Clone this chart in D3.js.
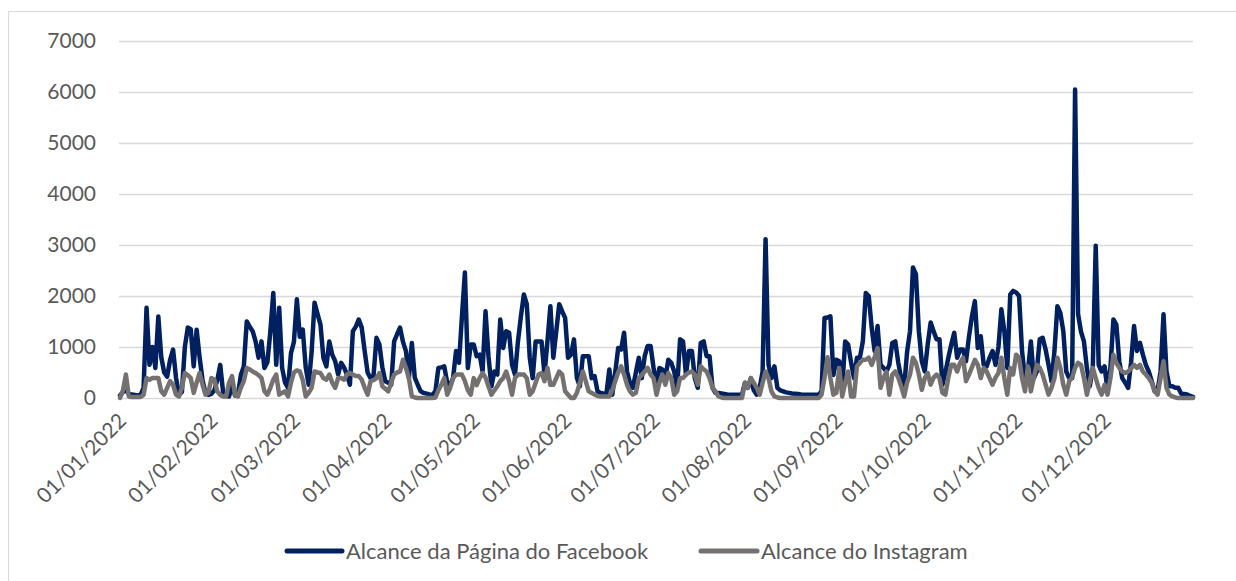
<!DOCTYPE html>
<html>
<head>
<meta charset="utf-8">
<script src="https://cdn.jsdelivr.net/npm/d3@7"></script>
<style>
  html, body { margin: 0; padding: 0; background: #fff; }
  svg { display: block; font-family: Lato, "Open Sans", sans-serif; }
</style>
</head>
<body>
<div id="chart"></div>
<script>
// daily values, 01/01/2022 .. 31/12/2022
const facebookReach = [
  50, 120, 150, 80, 70, 60, 50, 60, 200, 1770,
  650, 1000, 590, 1600, 800, 500, 420, 750, 950, 400,
  60, 120, 1000, 1380, 1350, 620, 1340, 800, 350, 100,
  60, 80, 150, 350, 650, 100, 40, 30, 250, 50,
  60, 450, 620, 1500, 1400, 1310, 1110, 790, 1110, 590,
  700, 1300, 2060, 650, 1770, 590, 300, 200, 880, 1100,
  1935, 1200, 1340, 600, 260, 900, 1870, 1650, 1440, 790,
  620, 1110, 850, 720, 460, 690, 600, 460, 260, 1310,
  1400, 1540, 1380, 920, 500, 390, 430, 1180, 1050, 600,
  330, 300, 260, 1110, 1250, 1380, 1100, 920, 390, 1080,
  400, 260, 130, 100, 85, 70, 65, 130, 590, 600,
  620, 300, 260, 390, 920, 690, 1600, 2460, 590, 1050,
  1050, 820, 850, 520, 1700, 820, 230, 520, 460, 1540,
  980, 1310, 1280, 650, 460, 1110, 1600, 2030, 1840, 790,
  390, 1110, 1110, 1110, 460, 1110, 1800, 790, 1310, 1840,
  1700, 1570, 790, 850, 1150, 390, 230, 820, 820, 820,
  390, 430, 130, 100, 90, 85, 560, 65, 500, 980,
  950, 1280, 520, 300, 200, 500, 790, 390, 820, 1020,
  1020, 590, 260, 590, 560, 390, 750, 690, 520, 200,
  1150, 1110, 460, 920, 920, 390, 200, 1080, 1110, 820,
  820, 200, 100, 100, 90, 80, 70, 65, 65, 65,
  65, 65, 300, 200, 390, 150, 65, 200, 520, 3115,
  650, 390, 620, 200, 150, 130, 110, 100, 90, 85,
  80, 70, 65, 65, 65, 65, 65, 65, 130, 1570,
  1580, 1600, 450, 750, 720, 200, 1110, 1050, 700, 390,
  790, 790, 1110, 2060, 2000, 1380, 920, 1410, 650, 590,
  520, 650, 1080, 1110, 700, 390, 200, 900, 1310, 2560,
  2430, 1310, 720, 520, 1050, 1480, 1310, 1150, 1150, 260,
  500, 790, 1050, 1280, 790, 950, 950, 720, 1200, 1600,
  1900, 980, 1210, 650, 620, 790, 920, 650, 1000, 1740,
  1310, 590, 2030, 2100, 2070, 2000, 920, 390, 520, 1110,
  390, 520, 1150, 1180, 950, 650, 330, 920, 1800, 1670,
  1310, 520, 390, 390, 6050, 1650, 1300, 1110, 590, 230,
  600, 2985, 650, 520, 620, 160, 600, 1540, 1440, 720,
  390, 300, 200, 700, 1410, 920, 1080, 850, 650, 520,
  330, 130, 150, 520, 1640, 520, 230, 230, 200, 200,
  85, 80, 70, 40, 20
];

const instagramReach = [
  0, 150, 460, 30, 20, 20, 20, 20, 60, 390,
  360, 390, 390, 390, 130, 65, 200, 330, 260, 65,
  30, 200, 490, 450, 390, 100, 300, 490, 260, 65,
  100, 390, 360, 130, 60, 30, 30, 300, 430, 65,
  30, 200, 330, 590, 560, 520, 490, 450, 390, 130,
  65, 200, 360, 460, 65, 100, 130, 30, 300, 500,
  540, 520, 350, 30, 100, 200, 520, 500, 490, 390,
  360, 460, 300, 200, 390, 390, 360, 460, 490, 460,
  430, 430, 360, 200, 65, 330, 350, 390, 490, 230,
  180, 130, 300, 460, 500, 520, 750, 590, 390, 30,
  10, 0, 0, 0, 0, 0, 0, 10, 150, 260,
  390, 65, 200, 390, 460, 460, 460, 330, 150, 65,
  390, 250, 390, 490, 400, 230, 65, 150, 230, 330,
  390, 520, 330, 65, 390, 460, 460, 460, 390, 65,
  130, 300, 460, 490, 330, 590, 260, 260, 390, 520,
  460, 130, 65, 0, 0, 100, 300, 520, 330, 130,
  100, 65, 40, 30, 30, 30, 30, 150, 330, 500,
  620, 460, 260, 130, 65, 100, 390, 450, 520, 590,
  460, 390, 65, 300, 460, 260, 490, 390, 65, 130,
  390, 390, 460, 500, 520, 460, 260, 620, 560, 520,
  390, 200, 130, 30, 10, 0, 0, 0, 0, 0,
  0, 0, 300, 200, 390, 300, 200, 65, 300, 520,
  390, 130, 30, 10, 0, 0, 0, 0, 0, 0,
  0, 0, 0, 0, 0, 0, 0, 0, 65, 400,
  800, 390, 65, 100, 590, 30, 300, 520, 30, 30,
  620, 690, 750, 750, 790, 650, 800, 980, 200, 390,
  520, 65, 460, 520, 400, 230, 30, 300, 460, 790,
  690, 460, 160, 390, 490, 260, 400, 460, 390, 100,
  65, 400, 650, 650, 520, 690, 790, 330, 460, 600,
  750, 650, 390, 590, 520, 390, 260, 400, 490, 790,
  390, 65, 590, 460, 850, 790, 390, 130, 620, 130,
  400, 650, 590, 460, 260, 65, 200, 390, 790, 590,
  260, 65, 330, 400, 590, 690, 650, 390, 65, 330,
  590, 390, 200, 65, 260, 65, 390, 850, 690, 590,
  520, 490, 520, 580, 650, 590, 650, 520, 460, 390,
  300, 130, 65, 390, 720, 200, 65, 30, 10, 0,
  0, 0, 0, 0, 0
];

const yTicks = [0, 1000, 2000, 3000, 4000, 5000, 6000, 7000];
const seriesNames = ["Alcance da Página do Facebook", "Alcance do Instagram"];
const seriesColors = ["#002060", "#767171"];

const width = 1236;
const height = 581;
const margin = { top: 41, right: 43, bottom: 183, left: 120 };

const startDate = new Date(2022, 0, 1);
const dates = facebookReach.map((_, i) => d3.timeDay.offset(startDate, i));
const monthTicks = d3.timeMonth.range(startDate, new Date(2022, 11, 2));

const svg = d3.select("#chart")
  .append("svg")
  .attr("width", width)
  .attr("height", height);

// outer chart frame (right and bottom edges fall outside the picture)
svg.append("rect")
  .attr("x", 8.5)
  .attr("y", 11.5)
  .attr("width", 1260)
  .attr("height", 600)
  .attr("fill", "none")
  .attr("stroke", "#d9d9d9")
  .attr("stroke-width", 1);

const x = d3.scaleTime()
  .domain([dates[0], dates[dates.length - 1]])
  .range([margin.left, width - margin.right]);

const y = d3.scaleLinear()
  .domain([0, 7000])
  .range([height - margin.bottom, margin.top]);

svg.append("g")
  .attr("transform", `translate(${margin.left - 1},0)`)
  .call(d3.axisLeft(y).tickValues(yTicks).tickFormat(d3.format("d"))
    .tickSize(-(width - margin.right - margin.left + 1)).tickPadding(23))
  .call((g) => g.select(".domain").remove())
  .call((g) => g.selectAll("line").attr("stroke", "#d9d9d9").attr("stroke-width", 1.5))
  .call((g) => g.selectAll("text")
    .attr("fill", "#595959")
    .attr("font-size", "21px")
    .attr("font-family", "Lato, 'Open Sans', sans-serif"));

svg.append("g")
  .attr("transform", `translate(0,${height - margin.bottom})`)
  .call(d3.axisBottom(x).tickValues(monthTicks).tickSize(0).tickFormat(d3.timeFormat("%d/%m/%Y")))
  .call((g) => g.select(".domain").remove())
  .call((g) => g.selectAll("text")
    .attr("fill", "#595959")
    .attr("font-size", "21px")
    .attr("font-family", "Lato, 'Open Sans', sans-serif")
    .attr("text-anchor", "end")
    .attr("x", 0)
    .attr("y", 0)
    .attr("dy", "0.35em")
    .attr("transform", "translate(2,19) rotate(-45)"));

const line = d3.line()
  .x((d, i) => x(dates[i]))
  .y((d) => y(d));

svg.append("path")
  .datum(facebookReach)
  .attr("fill", "none")
  .attr("stroke", seriesColors[0])
  .attr("stroke-width", 4.5)
  .attr("stroke-linejoin", "round")
  .attr("stroke-linecap", "round")
  .attr("d", line);

svg.append("path")
  .datum(instagramReach)
  .attr("fill", "none")
  .attr("stroke", seriesColors[1])
  .attr("stroke-width", 4.5)
  .attr("stroke-linejoin", "round")
  .attr("stroke-linecap", "round")
  .attr("d", line);

// legend
const legendItems = [
  { name: seriesNames[0], color: seriesColors[0], x0: 287, x1: 342 },
  { name: seriesNames[1], color: seriesColors[1], x0: 701, x1: 757 },
];
const legend = svg.append("g");
legendItems.forEach((item) => {
  legend.append("line")
    .attr("x1", item.x0)
    .attr("x2", item.x1)
    .attr("y1", 551)
    .attr("y2", 551)
    .attr("stroke", item.color)
    .attr("stroke-width", 5)
    .attr("stroke-linecap", "round");
  legend.append("text")
    .attr("x", item.x1 + 4)
    .attr("y", 551)
    .attr("dy", "0.35em")
    .attr("fill", "#595959")
    .attr("font-size", "22px")
    .text(item.name);
});
</script>
</body>
</html>
